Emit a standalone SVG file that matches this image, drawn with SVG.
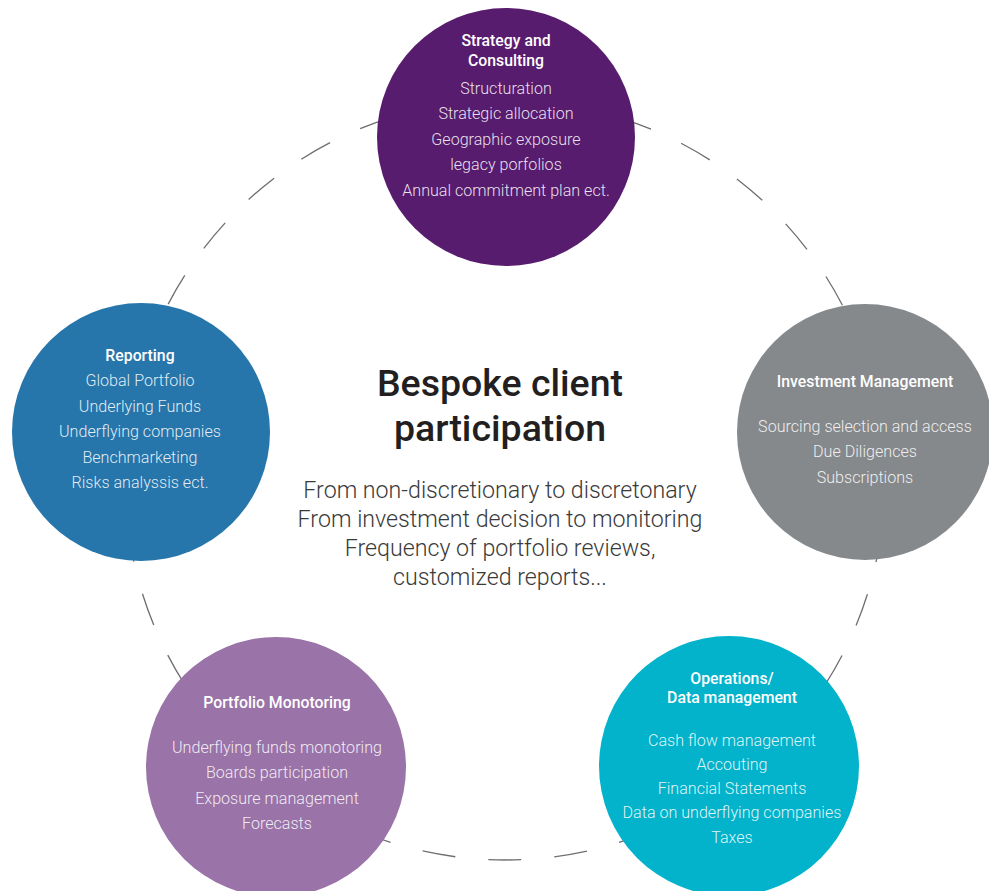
<svg xmlns="http://www.w3.org/2000/svg" width="989" height="891" viewBox="0 0 989 891">
  <style>
    .ring { fill: none; stroke: #6d6e71; stroke-width: 1.3; stroke-dasharray: 33.16 33.16; stroke-dashoffset: 16.58; }
    .title { font-family: Roboto, "Liberation Sans", sans-serif; font-size: 15.8px; font-weight: 500; fill: #ffffff; text-anchor: middle; }
    .item { font-family: Roboto, "Liberation Sans", sans-serif; font-size: 16.1px; font-weight: 300; fill: #ffffff; fill-opacity: 0.88; text-anchor: middle; }
    .head { font-family: Roboto, "Liberation Sans", sans-serif; font-size: 37.5px; font-weight: 500; fill: #231f20; text-anchor: middle; }
    .sub { font-family: Roboto, "Liberation Sans", sans-serif; font-size: 23.2px; font-weight: 300; fill: #3a3a3a; text-anchor: middle; }
  </style>

  <rect width="989" height="891" fill="#ffffff"/>

  <!-- dashed ring linking the five services -->
  <g id="connectors">
    <circle class="ring" cx="505" cy="480" r="380"/>
  </g>

  <g id="strategy">
    <circle cx="506" cy="137" r="129" fill="#581c6f"/>
    <text class="title" x="506" y="46">Strategy and</text>
    <text class="title" x="506" y="66">Consulting</text>
    <text class="item" x="506" y="94">Structuration</text>
    <text class="item" x="506" y="119">Strategic allocation</text>
    <text class="item" x="506" y="145">Geographic exposure</text>
    <text class="item" x="506" y="170">legacy porfolios</text>
    <text class="item" x="506" y="196">Annual commitment plan ect.</text>
  </g>

  <g id="investment">
    <circle cx="865" cy="432" r="128" fill="#86898c"/>
    <text class="title" x="865" y="387">Investment Management</text>
    <text class="item" x="865" y="432">Sourcing selection and access</text>
    <text class="item" x="865" y="457">Due Diligences</text>
    <text class="item" x="865" y="483">Subscriptions</text>
  </g>

  <g id="operations">
    <circle cx="729" cy="766" r="130" fill="#02b3cb"/>
    <text class="title" x="732" y="684">Operations/</text>
    <text class="title" x="732" y="703">Data management</text>
    <text class="item" x="732" y="746">Cash flow management</text>
    <text class="item" x="732" y="770">Accouting</text>
    <text class="item" x="732" y="794">Financial Statements</text>
    <text class="item" x="732" y="818">Data on underflying companies</text>
    <text class="item" x="732" y="843">Taxes</text>
  </g>

  <g id="portfolio">
    <circle cx="276" cy="767" r="130" fill="#9a73a8"/>
    <text class="title" x="277" y="708">Portfolio Monotoring</text>
    <text class="item" x="277" y="753">Underflying funds monotoring</text>
    <text class="item" x="277" y="778">Boards participation</text>
    <text class="item" x="277" y="804">Exposure management</text>
    <text class="item" x="277" y="829">Forecasts</text>
  </g>

  <g id="reporting">
    <circle cx="141" cy="432" r="129" fill="#2776ab"/>
    <text class="title" x="140" y="361">Reporting</text>
    <text class="item" x="140" y="386">Global Portfolio</text>
    <text class="item" x="140" y="412">Underlying Funds</text>
    <text class="item" x="140" y="437">Underflying companies</text>
    <text class="item" x="140" y="463">Benchmarketing</text>
    <text class="item" x="140" y="488">Risks analyssis ect.</text>
  </g>

  <g id="center">
    <text class="head" x="500" y="396">Bespoke client</text>
    <text class="head" x="500" y="441">participation</text>
    <text class="sub" x="500" y="498">From non-discretionary to discretonary</text>
    <text class="sub" x="500" y="527">From investment decision to monitoring</text>
    <text class="sub" x="500" y="556">Frequency of portfolio reviews,</text>
    <text class="sub" x="500" y="585">customized reports...</text>
  </g>
</svg>
